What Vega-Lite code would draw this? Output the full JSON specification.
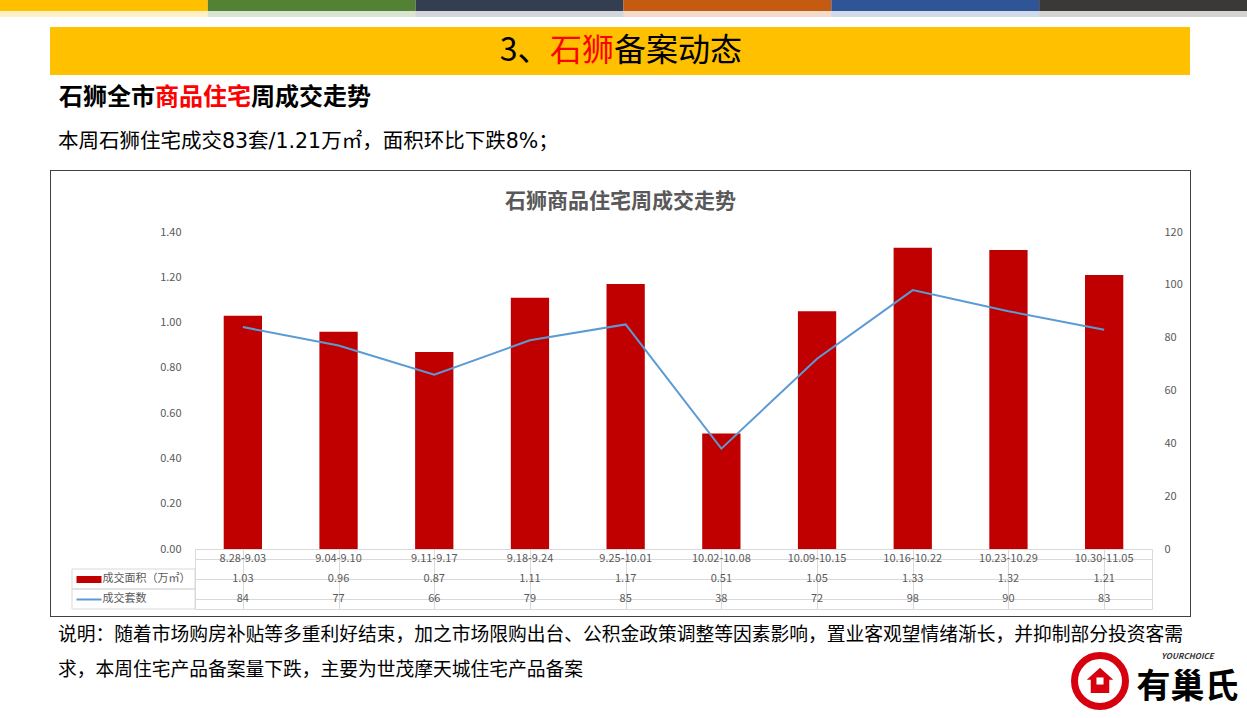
{
  "$schema": "https://vega.github.io/schema/vega-lite/v6.json",
  "padding": 0,
  "background": "white",
  "spacing": 0,
  "bounds": "flush",
  "config": {
    "view": {"stroke": null},
    "font": "Noto Sans CJK SC",
    "axis": {"labelFont": "Noto Sans CJK SC", "labelColor": "#595959", "labelFontSize": 11}
  },
  "datasets": {
    "weeks": [
      {"week": "8.28-9.03", "area": 1.03, "count": 84},
      {"week": "9.04-9.10", "area": 0.96, "count": 77},
      {"week": "9.11-9.17", "area": 0.87, "count": 66},
      {"week": "9.18-9.24", "area": 1.11, "count": 79},
      {"week": "9.25-10.01", "area": 1.17, "count": 85},
      {"week": "10.02-10.08", "area": 0.51, "count": 38},
      {"week": "10.09-10.15", "area": 1.05, "count": 72},
      {"week": "10.16-10.22", "area": 1.33, "count": 98},
      {"week": "10.23-10.29", "area": 1.32, "count": 90},
      {"week": "10.30-11.05", "area": 1.21, "count": 83}
    ],
    "segs": [{"seg": 1}, {"seg": 2}, {"seg": 3}, {"seg": 4}, {"seg": 5}, {"seg": 6}]
  },
  "vconcat": [
    {
      "width": 1247, "height": 11,
      "data": {"name": "segs"},
      "mark": {"type": "rect"},
      "encoding": {
        "x": {"field": "seg", "type": "ordinal", "scale": {"paddingInner": 0, "paddingOuter": 0}, "axis": null},
        "color": {"field": "seg", "type": "ordinal", "scale": {"range": ["#FFC000", "#548235", "#333F50", "#C55A11", "#2F5597", "#3B3838"]}, "legend": null}
      }
    },
    {
      "width": 1247, "height": 6,
      "data": {"name": "segs"},
      "mark": {"type": "rect", "opacity": 0.22},
      "encoding": {
        "x": {"field": "seg", "type": "ordinal", "scale": {"paddingInner": 0, "paddingOuter": 0}, "axis": null},
        "color": {"field": "seg", "type": "ordinal", "scale": {"range": ["#FFC000", "#548235", "#333F50", "#C55A11", "#2F5597", "#3B3838"]}, "legend": null}
      }
    },
    {"width": 1247, "height": 10, "data": {"values": []}, "mark": {"type": "point", "opacity": 0}},
    {
      "hconcat": [
        {"width": 50, "height": 48, "data": {"values": []}, "mark": {"type": "point", "opacity": 0}},
        {"width": 449, "height": 48, "view": {"fill": "#FFC000", "stroke": null}, "data": {"values": []}, "mark": {"type": "point", "opacity": 0}},
        {"width": 51, "height": 48, "view": {"fill": "#FFC000", "stroke": null}, "data": {"values": [{"t": "3、"}]},
         "mark": {"type": "text", "fontSize": 32, "color": "#000000", "align": "center", "baseline": "middle"},
         "encoding": {"text": {"field": "t"}}},
        {"width": 64, "height": 48, "view": {"fill": "#FFC000", "stroke": null}, "data": {"values": [{"t": "石狮"}]},
         "mark": {"type": "text", "fontSize": 32, "color": "#FF0000", "align": "center", "baseline": "middle"},
         "encoding": {"text": {"field": "t"}}},
        {"width": 128, "height": 48, "view": {"fill": "#FFC000", "stroke": null}, "data": {"values": [{"t": "备案动态"}]},
         "mark": {"type": "text", "fontSize": 32, "color": "#000000", "align": "center", "baseline": "middle"},
         "encoding": {"text": {"field": "t"}}},
        {"width": 448, "height": 48, "view": {"fill": "#FFC000", "stroke": null}, "data": {"values": []}, "mark": {"type": "point", "opacity": 0}}
      ],
      "spacing": 0, "bounds": "flush"
    },
    {"width": 1, "height": 48, "data": {"values": []}, "mark": {"type": "point", "opacity": 0}},
    {
      "hconcat": [
        {"width": 59, "height": 46, "data": {"values": []}, "mark": {"type": "point", "opacity": 0}},
        {"width": 96, "height": 46, "data": {"values": [{"t": "石狮全市"}]},
         "mark": {"type": "text", "fontSize": 24, "fontWeight": "bold", "color": "#000000", "align": "center", "baseline": "middle"},
         "encoding": {"text": {"field": "t"}}},
        {"width": 96, "height": 46, "data": {"values": [{"t": "商品住宅"}]},
         "mark": {"type": "text", "fontSize": 24, "fontWeight": "bold", "color": "#FF0000", "align": "center", "baseline": "middle"},
         "encoding": {"text": {"field": "t"}}},
        {"width": 120, "height": 46, "data": {"values": [{"t": "周成交走势"}]},
         "mark": {"type": "text", "fontSize": 24, "fontWeight": "bold", "color": "#000000", "align": "center", "baseline": "middle"},
         "encoding": {"text": {"field": "t"}}}
      ],
      "spacing": 0, "bounds": "flush"
    },
    {"width": 1, "height": 46, "data": {"values": []}, "mark": {"type": "point", "opacity": 0}},
    {
      "width": 116, "height": 42,
      "data": {"values": [{"t": "本周石狮住宅成交83套/1.21万㎡，面积环比下跌8%；"}]},
      "mark": {"type": "text", "fontSize": 20.5, "font": "DejaVu Sans, Noto Sans CJK SC", "color": "#000000", "align": "left", "baseline": "middle"},
      "encoding": {"text": {"field": "t"}}
    },
    {"width": 1, "height": 7, "data": {"values": []}, "mark": {"type": "point", "opacity": 0}},
    {
      "hconcat": [
        {"width": 50, "height": 1, "data": {"values": []}, "mark": {"type": "point", "opacity": 0}},
        {"width": 1141, "height": 1, "view": {"fill": "#404040", "stroke": null}, "data": {"values": []}, "mark": {"type": "point", "opacity": 0}}
      ],
      "spacing": 0, "bounds": "flush"
    },
    {"width": 1, "height": 1, "data": {"values": []}, "mark": {"type": "point", "opacity": 0}},
    {
      "hconcat": [
        {"width": 50, "height": 445, "data": {"values": []}, "mark": {"type": "point", "opacity": 0}},
        {"width": 1, "height": 445, "view": {"fill": "#404040", "stroke": null}, "data": {"values": []}, "mark": {"type": "point", "opacity": 0}},
        {
          "vconcat": [
            {
              "width": 1139, "height": 61,
              "data": {"values": [{"t": "石狮商品住宅周成交走势"}]},
              "mark": {"type": "text", "fontSize": 21, "fontWeight": "bold", "color": "#595959", "align": "center", "baseline": "middle"},
              "encoding": {"text": {"field": "t"}}
            },
            {
              "hconcat": [
                {"width": 144, "height": 317, "data": {"values": []}, "mark": {"type": "point", "opacity": 0}},
                {
                  "width": 957, "height": 317,
                  "data": {"name": "weeks"},
                  "encoding": {
                    "x": {"field": "week", "type": "nominal", "sort": null, "scale": {"paddingInner": 0.6, "paddingOuter": 0.3}, "axis": null}
                  },
                  "layer": [
                    {
                      "mark": {"type": "bar", "color": "#C00000"},
                      "encoding": {
                        "y": {"field": "area", "type": "quantitative", "scale": {"domain": [0, 1.4], "nice": false},
                              "axis": {"values": [0, 0.2, 0.4, 0.6, 0.8, 1, 1.2, 1.4], "format": ".2f", "grid": false, "domain": false, "ticks": false, "labelPadding": 14, "title": null}}
                      }
                    },
                    {
                      "mark": {"type": "line", "color": "#5B9BD5", "strokeWidth": 2},
                      "encoding": {
                        "y": {"field": "count", "type": "quantitative", "scale": {"domain": [0, 120], "nice": false},
                              "axis": {"orient": "right", "values": [0, 20, 40, 60, 80, 100, 120], "grid": false, "domain": false, "ticks": false, "labelPadding": 12, "title": null}}
                      }
                    }
                  ],
                  "resolve": {"scale": {"y": "independent"}}
                }
              ],
              "spacing": 0, "bounds": "flush"
            },
            {"width": 1, "height": 317, "data": {"values": []}, "mark": {"type": "point", "opacity": 0}},
            {
              "hconcat": [
                {"width": 21, "height": 60, "data": {"values": []}, "mark": {"type": "point", "opacity": 0}},
                {
                  "vconcat": [
                    {"width": 123, "height": 20, "data": {"values": []}, "mark": {"type": "point", "opacity": 0}},
                    {
                      "width": 123, "height": 40,
                      "data": {"values": [{"row": "成交面积（万㎡）"}, {"row": "成交套数"}]},
                      "mark": {"type": "rect", "fill": "transparent", "stroke": "#D9D9D9", "strokeWidth": 1},
                      "encoding": {
                        "y": {"field": "row", "type": "nominal", "sort": null, "scale": {"paddingInner": 0, "paddingOuter": 0},
                              "axis": {"title": null, "domain": false, "grid": false, "ticks": true, "tickSize": -25,
                                       "tickWidth": {"condition": {"test": "datum.value === '成交套数'", "value": 2}, "value": 7},
                                       "tickColor": {"condition": {"test": "datum.value === '成交套数'", "value": "#5B9BD5"}, "value": "#C00000"},
                                       "tickCap": "butt", "offset": -4, "labelAlign": "left", "labelPadding": -1}}
                      }
                    }
                  ],
                  "spacing": 0, "bounds": "flush"
                },
                {"width": 123, "height": 1, "data": {"values": []}, "mark": {"type": "point", "opacity": 0}},
                {
                  "width": 957, "height": 60,
                  "view": {"stroke": "#D9D9D9", "strokeWidth": 1},
                  "data": {"name": "weeks"},
                  "encoding": {
                    "x": {"field": "week", "type": "nominal", "sort": null, "scale": {"paddingInner": 0, "paddingOuter": 0},
                          "axis": {"orient": "top", "grid": true, "bandPosition": 0, "gridColor": "#D9D9D9", "labels": false, "ticks": false, "domain": false, "title": null}}
                  },
                  "layer": [
                    {
                      "mark": {"type": "text", "fontSize": 11, "color": "#595959"},
                      "encoding": {
                        "y": {"datum": "周次", "type": "nominal", "scale": {"domain": ["周次", "成交面积（万㎡）", "成交套数"], "paddingInner": 0, "paddingOuter": 0},
                              "axis": {"grid": true, "bandPosition": 0, "gridColor": "#D9D9D9", "labels": false, "ticks": false, "domain": false, "title": null}},
                        "text": {"field": "week"}
                      }
                    },
                    {
                      "mark": {"type": "text", "fontSize": 11, "color": "#595959"},
                      "encoding": {
                        "y": {"datum": "成交面积（万㎡）", "type": "nominal"},
                        "text": {"field": "area", "type": "quantitative", "format": ".2f"}
                      }
                    },
                    {
                      "mark": {"type": "text", "fontSize": 11, "color": "#595959"},
                      "encoding": {
                        "y": {"datum": "成交套数", "type": "nominal"},
                        "text": {"field": "count", "type": "quantitative"}
                      }
                    }
                  ]
                }
              ],
              "spacing": 0, "bounds": "flush"
            },
            {"width": 1, "height": 67, "data": {"values": []}, "mark": {"type": "point", "opacity": 0}}
          ],
          "spacing": 0, "bounds": "flush"
        },
        {"width": 1139, "height": 1, "data": {"values": []}, "mark": {"type": "point", "opacity": 0}},
        {"width": 1, "height": 445, "view": {"fill": "#404040", "stroke": null}, "data": {"values": []}, "mark": {"type": "point", "opacity": 0}}
      ],
      "spacing": 0, "bounds": "flush"
    },
    {"width": 1, "height": 445, "data": {"values": []}, "mark": {"type": "point", "opacity": 0}},
    {
      "hconcat": [
        {"width": 50, "height": 1, "data": {"values": []}, "mark": {"type": "point", "opacity": 0}},
        {"width": 1141, "height": 1, "view": {"fill": "#404040", "stroke": null}, "data": {"values": []}, "mark": {"type": "point", "opacity": 0}}
      ],
      "spacing": 0, "bounds": "flush"
    },
    {"width": 1, "height": 1, "data": {"values": []}, "mark": {"type": "point", "opacity": 0}},
    {
      "hconcat": [
        {
          "width": 116, "height": 70,
          "data": {"values": [
            {"line": "说明：随着市场购房补贴等多重利好结束，加之市场限购出台、公积金政策调整等因素影响，置业客观望情绪渐长，并抑制部分投资客需"},
            {"line": "求，本周住宅产品备案量下跌，主要为世茂摩天城住宅产品备案"}
          ]},
          "mark": {"type": "text", "fontSize": 18.75, "color": "#000000", "align": "left", "baseline": "middle"},
          "encoding": {
            "y": {"field": "line", "type": "nominal", "sort": null, "scale": {"paddingInner": 0, "paddingOuter": 0.25}, "axis": null},
            "text": {"field": "line"}
          }
        },
        {"width": 949, "height": 70, "data": {"values": []}, "mark": {"type": "point", "opacity": 0}},
        {
          "vconcat": [
            {"width": 175, "height": 33, "data": {"values": []}, "mark": {"type": "point", "opacity": 0}},
            {
              "hconcat": [
                {
                  "width": 70, "height": 62,
                  "data": {"values": [{"logo": "有巢氏"}]},
                  "layer": [
                    {"mark": {"type": "point", "shape": "circle", "size": 2600, "filled": false, "stroke": "#D7000F", "strokeWidth": 7, "opacity": 1}},
                    {"mark": {"type": "point", "shape": "M0,-1L1,-0.1L0.7,-0.1L0.7,0.9L-0.7,0.9L-0.7,-0.1L-1,-0.1Z", "size": 700, "filled": true, "color": "#D7000F", "opacity": 1}},
                    {"mark": {"type": "point", "shape": "square", "size": 50, "filled": true, "color": "#FFFFFF", "opacity": 1}}
                  ]
                },
                {
                  "vconcat": [
                    {"width": 105, "height": 14, "data": {"values": [{"t": "YOURCHOICE"}]},
                     "mark": {"type": "text", "fontSize": 8, "fontStyle": "italic", "fontWeight": "bold", "color": "#333333", "align": "center", "baseline": "middle"},
                     "encoding": {"text": {"field": "t"}}},
                    {"width": 105, "height": 48, "data": {"values": [{"t": "有巢氏"}]},
                     "mark": {"type": "text", "fontSize": 34, "fontWeight": "bold", "color": "#000000", "align": "center", "baseline": "middle"},
                     "encoding": {"text": {"field": "t"}}}
                  ],
                  "spacing": 0, "bounds": "flush"
                }
              ],
              "spacing": 0, "bounds": "flush"
            }
          ],
          "spacing": 0, "bounds": "flush"
        }
      ],
      "spacing": 0, "bounds": "flush"
    }
  ]
}
